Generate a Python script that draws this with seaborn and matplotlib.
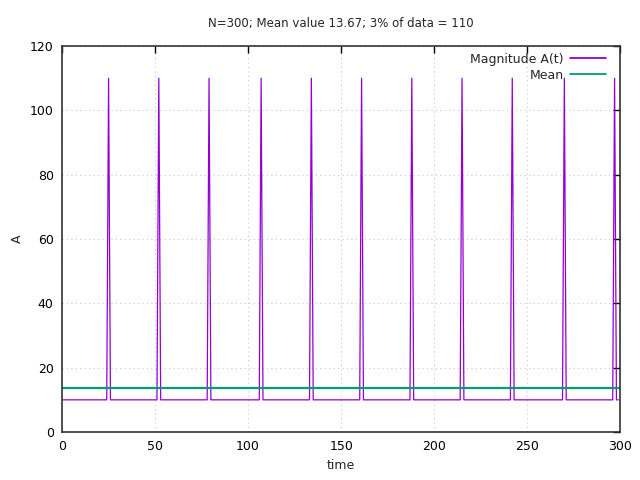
import numpy as np
import pandas as pd
import matplotlib
matplotlib.use("Agg")
import matplotlib.pyplot as plt
import seaborn as sns

# Data
n_points = 300
base_level = 10
spike_level = 110
spike_times = [25, 52, 79, 107, 134, 161, 188, 215, 242, 270, 297]
mean_value = 13.67
x_ticks = [0, 50, 100, 150, 200, 250, 300]
y_ticks = [0, 20, 40, 60, 80, 100, 120]

time = np.arange(n_points)
amp = np.full(n_points, base_level, dtype=float)
amp[spike_times] = spike_level
df = pd.DataFrame({"time": time, "A": amp})
df_mean = pd.DataFrame({"time": [0, 300], "A": [mean_value, mean_value]})

sns.set_style("white")
plt.rcParams['font.family'] = ['DejaVu Sans']

fig = plt.figure(figsize=(6.4, 4.8), dpi=100)
ax = fig.add_axes([0.097, 0.1, 0.872, 0.804])

sns.lineplot(data=df, x="time", y="A", ax=ax, color="#9400D3", lw=0.9,
             label="Magnitude A(t)")
sns.lineplot(data=df_mean, x="time", y="A", ax=ax, color="#009E73", lw=1.6,
             label="Mean")

ax.set_xlim(0, 300)
ax.set_ylim(0, 120)
ax.set_xticks(x_ticks)
ax.set_yticks(y_ticks)
ax.grid(True, color="#c8c8c8", linestyle=(0, (1, 3)), lw=0.8)
ax.tick_params(direction="in", length=5, width=1, top=True, right=True,
               labelsize=9, colors="#000000", pad=6)
for s in ax.spines.values():
    s.set_color("#333333")
    s.set_linewidth(1.2)
ax.set_xlabel("time", fontsize=9)
ax.set_ylabel("A", fontsize=9)
ax.set_title("N=300; Mean value 13.67; 3% of data = 110", fontsize=8.5, pad=14)

leg = ax.legend(loc="upper right", bbox_to_anchor=(0.984, 0.996),
                frameon=False, markerfirst=False,
                fontsize=9, handlelength=2.9, borderaxespad=0.0,
                labelspacing=0.25, handletextpad=0.5)
for t in leg.get_texts():
    t.set_ha("right")
leg._legend_box.align = "right"
for h in leg.get_lines():
    h.set_linewidth(1.3)

fig.savefig("out.png", dpi=100)
